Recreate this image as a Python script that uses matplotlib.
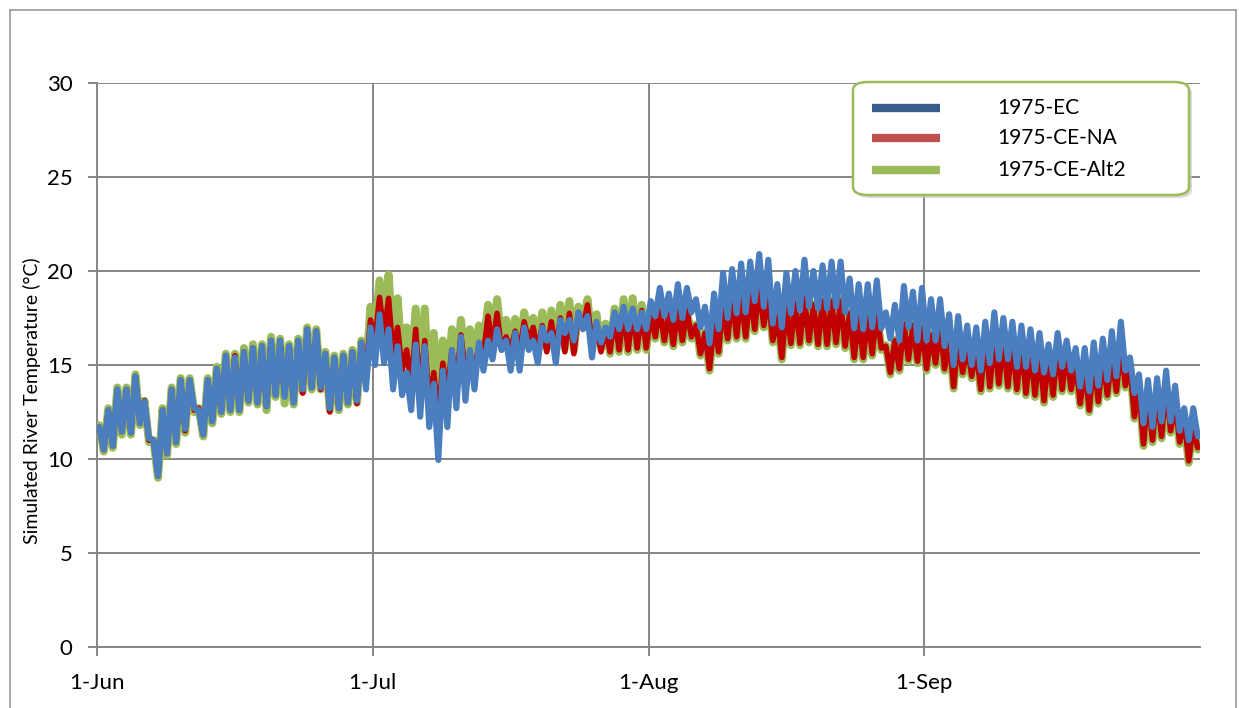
import numpy as np
import matplotlib.pyplot as plt
from matplotlib.patches import FancyBboxPatch
from matplotlib.lines import Line2D

plt.rcParams['font.family'] = ['Lato', 'DejaVu Sans']

# daily highs (afternoon) and lows (night), 1-Jun .. 30-Sep
ec_max = [11.7, 12.6, 13.7, 13.7, 14.4, 13.05, 11.0, 12.6, 13.7, 14.2, 14.2, 12.6, 14.2, 14.8, 15.5,
          15.4, 15.7, 15.9, 16.0, 16.3, 16.3, 16.0, 16.3, 16.9, 16.8, 15.6, 15.4, 15.5, 15.7, 16.2,
          17.0, 17.7, 16.9, 16.0, 14.6, 16.1, 16.0, 14.0, 14.7, 15.8, 16.5, 15.8, 16.2, 16.3, 16.9, 16.3,
          16.7, 17.0, 16.3, 17.0, 16.7, 17.4, 17.4, 17.8, 17.6, 17.3, 17.0, 17.8, 18.1, 18.0, 17.8,
          18.4, 19.1, 18.8, 19.3, 19.1, 18.5, 18.1, 18.8, 19.9, 20.1, 20.4, 20.5, 20.9, 20.6, 19.3, 19.9,
          20.0, 20.6, 20.0, 20.3, 20.5, 20.5, 19.6, 19.3, 19.3, 19.5, 17.8, 18.2, 19.2, 18.9, 19.1,
          18.5, 18.5, 17.7, 17.6, 17.1, 17.0, 17.3, 17.8, 17.5, 17.3, 17.1, 16.9, 16.7, 16.1, 16.7, 16.3,
          15.9, 15.9, 16.2, 16.4, 16.8, 17.3, 15.4, 14.5, 14.2, 14.3, 14.7, 13.9, 12.7, 12.7]
ec_min = [10.5, 10.7, 11.45, 11.4, 11.9, 11.1, 9.1, 10.3, 10.9, 11.6, 12.7, 11.3, 12.0, 12.5, 12.6,
          12.6, 13.1, 13.0, 12.8, 13.4, 13.3, 13.0, 13.7, 13.8, 13.8, 12.7, 12.7, 13.0, 13.1, 13.7,
          15.0, 15.1, 13.7, 13.4, 12.6, 12.25, 11.7, 9.95, 11.7, 12.7, 13.1, 13.7, 14.7, 15.3, 15.8, 14.7,
          14.7, 15.8, 15.1, 16.3, 15.1, 16.7, 16.3, 16.9, 15.4, 16.2, 16.5, 16.9, 16.9, 16.9, 16.9,
          17.6, 17.6, 17.4, 17.5, 17.8, 17.0, 16.15, 16.9, 17.5, 17.75, 17.8, 18.4, 18.1, 17.2, 17.0, 17.75,
          17.9, 18.1, 18.0, 18.0, 18.1, 17.8, 16.95, 16.9, 17.0, 16.95, 16.4, 16.3, 17.0, 16.3, 16.3,
          16.3, 16.0, 15.0, 15.3, 15.0, 14.7, 15.1, 15.3, 15.3, 14.9, 14.9, 14.7, 14.6, 14.5, 14.9, 14.7,
          13.85, 13.6, 13.9, 14.2, 14.4, 14.7, 13.5, 11.9, 11.7, 12.0, 12.0, 11.5, 11.0, 11.2]

na_max = [11.7, 12.6, 13.7, 13.7, 14.4, 13.1, 11.0, 12.6, 13.7, 14.2, 14.2, 12.7, 14.2, 14.8, 15.5,
          15.5, 15.7, 15.9, 16.0, 16.3, 16.3, 16.0, 16.3, 16.9, 16.8, 15.6, 15.4, 15.5, 15.7, 16.2,
          17.4, 18.6, 18.55, 17.0, 15.8, 16.9, 16.3, 14.6, 15.1, 15.8, 16.6, 15.4, 16.0, 17.6, 17.75, 16.5,
          16.8, 17.3, 17.0, 17.1, 17.3, 17.5, 17.75, 17.8, 18.2, 17.1, 16.95, 17.6, 17.9, 17.9, 17.9,
          17.7, 18.0, 17.75, 18.0, 17.9, 17.1, 16.7, 17.2, 18.2, 18.55, 18.7, 18.8, 19.2, 18.6, 17.6, 18.1,
          18.3, 18.55, 18.2, 18.4, 18.4, 18.4, 17.75, 17.5, 17.6, 17.8, 16.0, 16.3, 17.2, 17.1, 17.0,
          16.6, 17.1, 16.4, 16.3, 16.0, 15.8, 16.4, 16.4, 16.3, 16.15, 16.1, 15.8, 15.6, 15.5, 16.0, 15.6,
          15.1, 14.8, 15.2, 15.4, 15.4, 15.9, 15.0, 13.7, 13.3, 13.5, 13.85, 13.0, 12.1, 11.7]
na_min = [10.5, 10.7, 11.45, 11.4, 11.9, 11.0, 9.1, 10.3, 10.9, 11.5, 12.6, 11.3, 12.0, 12.5, 12.6,
          12.6, 13.1, 13.0, 12.8, 13.4, 13.4, 13.0, 13.5, 13.8, 13.7, 12.5, 12.7, 13.0, 12.95, 14.5,
          16.3, 16.6, 15.6, 14.7, 13.85, 13.5, 12.95, 12.1, 13.5, 14.0, 14.7, 14.9, 15.6, 16.0, 15.8, 15.8,
          15.8, 16.3, 15.7, 15.7, 15.8, 15.7, 15.6, 17.0, 16.15, 15.7, 15.7, 15.8, 15.8, 15.9, 15.9,
          16.5, 16.3, 16.1, 16.3, 16.5, 15.6, 14.8, 15.7, 16.4, 16.5, 16.5, 16.9, 17.1, 16.3, 15.4, 16.15,
          16.15, 16.3, 16.1, 16.1, 16.2, 16.0, 15.4, 15.4, 15.6, 15.9, 14.6, 14.8, 15.3, 15.2, 14.8,
          15.1, 14.8, 13.85, 14.6, 14.4, 13.7, 13.85, 14.0, 13.85, 13.7, 13.5, 13.4, 13.1, 13.4, 13.7, 13.7,
          12.95, 12.6, 13.05, 13.4, 13.6, 13.9, 12.25, 10.8, 11.0, 11.2, 11.5, 10.9, 9.9, 10.6]

alt2_max = [11.8, 12.7, 13.8, 13.8, 14.5, 13.1, 11.0, 12.7, 13.8, 14.3, 14.3, 12.7, 14.3, 14.9, 15.6,
            15.6, 15.9, 16.1, 16.1, 16.5, 16.4, 16.1, 16.4, 17.0, 16.9, 15.7, 15.5, 15.6, 15.8, 16.3,
            18.1, 19.5, 19.8, 18.55, 17.0, 18.0, 18.0, 16.7, 16.3, 16.9, 17.4, 16.9, 17.1, 18.2, 18.5, 17.4,
            17.45, 17.8, 17.5, 17.8, 17.9, 18.2, 18.4, 18.1, 18.5, 17.7, 17.2, 18.0, 18.5, 18.55, 18.2,
            17.8, 18.05, 17.8, 18.05, 17.95, 17.15, 16.75, 17.25, 18.25, 18.6, 18.75, 18.85, 19.25, 18.65, 17.65, 18.15,
            18.35, 18.6, 18.25, 18.45, 18.45, 18.45, 17.8, 17.55, 17.65, 17.85, 16.05, 16.35, 17.25, 17.15, 17.05,
            16.65, 17.15, 16.45, 16.35, 16.05, 15.85, 16.45, 16.45, 16.35, 16.2, 16.15, 15.85, 15.65, 15.55, 16.05, 15.65,
            15.15, 14.85, 15.25, 15.45, 15.45, 15.95, 15.05, 13.75, 13.35, 13.55, 13.9, 13.05, 12.15, 11.75]
alt2_min = [10.4, 10.6, 11.3, 11.3, 11.8, 10.9, 9.0, 10.2, 10.8, 11.4, 12.5, 11.2, 11.9, 12.4, 12.5,
            12.5, 13.0, 12.9, 12.6, 13.3, 12.95, 12.9, 13.6, 13.7, 13.7, 12.6, 12.6, 12.9, 13.0, 14.6,
            16.7, 17.0, 16.0, 15.1, 14.3, 13.9, 13.4, 12.6, 13.9, 14.4, 15.1, 15.3, 16.0, 16.4, 16.2, 16.2,
            16.0, 16.5, 15.9, 15.9, 16.0, 15.9, 15.8, 17.2, 16.3, 15.9, 15.6, 15.7, 15.7, 15.8, 15.8,
            16.4, 16.2, 16.0, 16.2, 16.4, 15.5, 14.7, 15.6, 16.3, 16.4, 16.4, 16.8, 17.0, 16.2, 15.3, 16.05,
            16.05, 16.2, 16.0, 16.0, 16.1, 15.9, 15.3, 15.3, 15.5, 15.8, 14.5, 14.7, 15.2, 15.1, 14.7,
            15.0, 14.7, 13.75, 14.5, 14.3, 13.6, 13.75, 13.9, 13.75, 13.6, 13.4, 13.3, 13.0, 13.3, 13.6, 13.6,
            12.85, 12.5, 12.95, 13.3, 13.5, 13.8, 12.15, 10.7, 10.9, 11.1, 11.4, 10.8, 9.8, 10.5]

tick_days = [0, 30.5, 61, 91.5]
tick_labels = ['1-Jun', '1-Jul', '1-Aug', '1-Sep']
series_names = ['1975-EC', '1975-CE-NA', '1975-CE-Alt2']


def zigzag(hi, lo):
    # high in the afternoon, low at night
    days = np.arange(len(hi))
    t = np.empty(2 * len(hi))
    v = np.empty(2 * len(hi))
    t[0::2] = days + 0.25
    t[1::2] = days + 0.75
    v[0::2] = hi
    v[1::2] = lo
    return t, v


W, H = 1239, 708
fig = plt.figure(figsize=(W / 100, H / 100), dpi=100)
ax = fig.add_axes([97 / W, 1 - 647 / H, (1200 - 97) / W, (647 - 83) / H])

grid_c = '#868686'
style = dict(solid_joinstyle='round', solid_capstyle='round')
t, v = zigzag(alt2_max, alt2_min)
ax.plot(t, v, color='#9BBB59', lw=5.8, zorder=3, **style)
t, v = zigzag(na_max, na_min)
ax.plot(t, v, color='#C00000', lw=4.0, zorder=4, **style)
t, v = zigzag(ec_max, ec_min)
ax.plot(t, v, color='#4A7EBF', lw=4.4, zorder=5, **style)

ax.set_xlim(0, 122)
ax.set_ylim(0, 30)
ax.set_yticks(np.arange(0, 31, 5))
ax.set_xticks(tick_days)
ax.set_xticklabels(tick_labels)
ax.grid(True, color=grid_c, lw=1.4)
ax.set_axisbelow(True)
for s in ['top', 'right']:
    ax.spines[s].set_visible(False)
for s in ['left', 'bottom']:
    ax.spines[s].set_color(grid_c)
    ax.spines[s].set_linewidth(1.4)
ax.tick_params(axis='both', colors=grid_c, width=1.4, length=6.5, labelsize=16, labelcolor='black')
ax.tick_params(axis='y', pad=11)
ax.tick_params(axis='x', pad=12)

fig.text(32 / W, 1 - 401 / H, 'Simulated River Temperature (°C)', rotation=90,
         ha='center', va='center', fontsize=14)

# chart area border
fig.add_artist(Line2D([10 / W, 10 / W], [0, 1 - 10 / H], color='#9a9a9a', lw=1.2))
fig.add_artist(Line2D([10 / W, 1236 / W], [1 - 10 / H, 1 - 10 / H], color='#9a9a9a', lw=1.2))
fig.add_artist(Line2D([1236 / W, 1236 / W], [0, 1 - 10 / H], color='#9a9a9a', lw=1.2))

# legend box with shadow
bx0, bx1, by0, by1 = 853, 1189, 82, 195
shadow = FancyBboxPatch((bx0 / W + 3 / W, 1 - by1 / H - 3 / H), (bx1 - bx0) / W, (by1 - by0) / H,
                        boxstyle='round,pad=0,rounding_size=0.012', transform=fig.transFigure,
                        fc='#c8c8c8', ec='none', alpha=0.7, zorder=9)
box = FancyBboxPatch((bx0 / W, 1 - by1 / H), (bx1 - bx0) / W, (by1 - by0) / H,
                     boxstyle='round,pad=0,rounding_size=0.012', transform=fig.transFigure,
                     fc='white', ec='#9BBB59', lw=1.8, zorder=10)
fig.add_artist(shadow)
fig.add_artist(box)
leg_colors = ['#385D8A', '#C0504D', '#9BBB59']
leg_y = [108, 138, 170]
for name, c, y in zip(series_names, leg_colors, leg_y):
    fig.add_artist(Line2D([872 / W, 940 / W], [1 - y / H, 1 - y / H], color=c, lw=6,
                          solid_capstyle='butt', zorder=11))
    fig.text(997 / W, 1 - y / H, name, ha='left', va='center', fontsize=15, zorder=11)

fig.savefig('out.png', dpi=100)
